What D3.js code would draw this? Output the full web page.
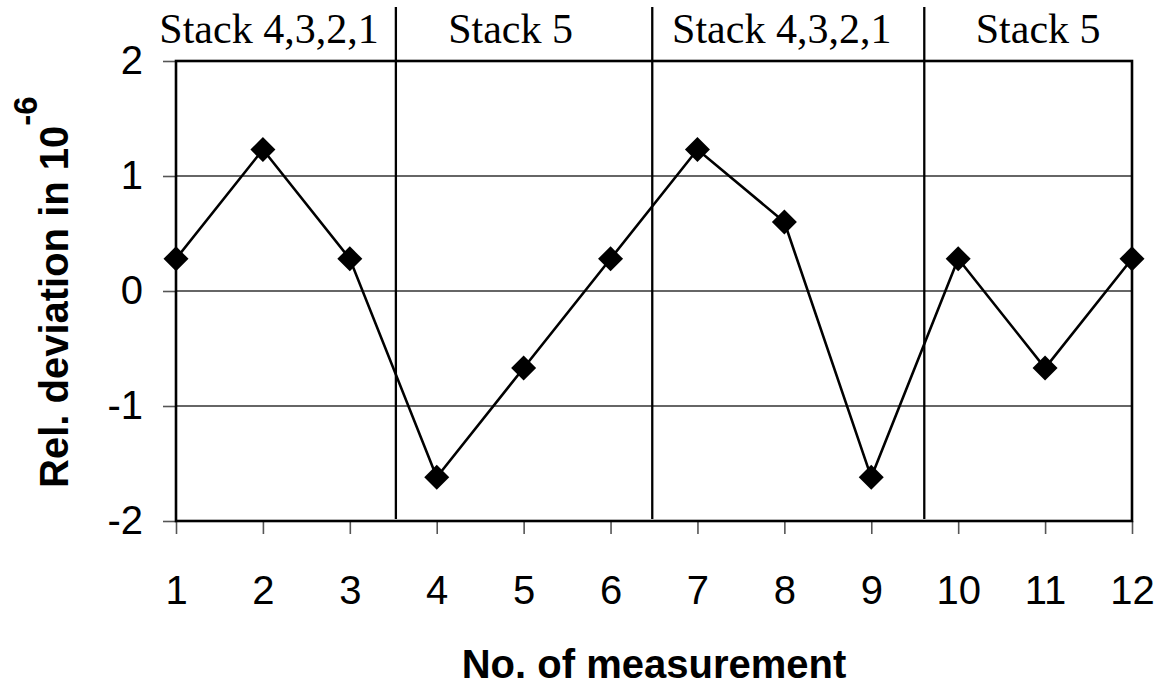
<!DOCTYPE html>
<html>
<head>
<meta charset="utf-8">
<script src="https://cdn.jsdelivr.net/npm/d3@7"></script>
<style>
  html, body { margin: 0; padding: 0; background: #fff; }
  svg { display: block; }
</style>
</head>
<body>
<svg id="chart" width="1171" height="685"></svg>
<script>
// Measurement number and relative deviation (in 1e-6)
const measurements = [1, 2, 3, 4, 5, 6, 7, 8, 9, 10, 11, 12];
const deviations = [0.28, 1.23, 0.28, -1.62, -0.67, 0.28, 1.23, 0.60, -1.62, 0.28, -0.67, 0.28];
const yTicks = [-2, -1, 0, 1, 2];

// Group boundaries and group captions along the top
const groupBreaks = [3.53, 6.48, 9.61];
const groupNames = ["Stack 4,3,2,1", "Stack 5", "Stack 4,3,2,1", "Stack 5"];
const groupCenters = [2.07, 4.85, 7.97, 10.92];

const svg = d3.select("#chart");
const plot = { left: 176, right: 1132, top: 61, bottom: 521 };

const x = d3.scaleLinear().domain([1, 12]).range([plot.left, plot.right]);
const y = d3.scaleLinear().domain([-2, 2]).range([plot.bottom, plot.top]);

const sans = "'Liberation Sans', Arial, sans-serif";
const serif = "'Liberation Serif', 'Times New Roman', serif";

// Horizontal gridlines
svg.append("g")
  .selectAll("line")
  .data(yTicks.filter(d => d > -2 && d < 2))
  .join("line")
  .attr("x1", plot.left).attr("x2", plot.right)
  .attr("y1", d => y(d)).attr("y2", d => y(d))
  .attr("stroke", "#333").attr("stroke-width", 1.3);

// Y axis
const yAxis = svg.append("g")
  .attr("transform", `translate(${plot.left},0)`)
  .call(d3.axisLeft(y).tickValues(yTicks).tickSize(13).tickPadding(20).tickFormat(d3.format("d")));
yAxis.select(".domain").remove();
yAxis.selectAll(".tick line").attr("stroke", "#555").attr("stroke-width", 1.6);
yAxis.selectAll(".tick text")
  .attr("font-family", sans).attr("font-size", 40).attr("fill", "#000")
  .text(d => d < 0 ? "-" + Math.abs(d) : d);

// X axis
const xAxis = svg.append("g")
  .attr("transform", `translate(0,${plot.bottom})`)
  .call(d3.axisBottom(x).tickValues(measurements).tickSize(13).tickPadding(42).tickFormat(d3.format("d")));
xAxis.select(".domain").remove();
xAxis.selectAll(".tick line").attr("stroke", "#555").attr("stroke-width", 1.6);
xAxis.selectAll(".tick text")
  .attr("font-family", sans).attr("font-size", 40).attr("fill", "#000");

// Plot frame
svg.append("rect")
  .attr("x", plot.left).attr("y", plot.top)
  .attr("width", plot.right - plot.left).attr("height", plot.bottom - plot.top)
  .attr("fill", "none").attr("stroke", "#000").attr("stroke-width", 2.6);

// Group separators
svg.append("g")
  .selectAll("line")
  .data(groupBreaks)
  .join("line")
  .attr("x1", d => x(d)).attr("x2", d => x(d))
  .attr("y1", 7).attr("y2", plot.bottom - 2)
  .attr("stroke", "#000").attr("stroke-width", 2.3);

// Group captions
svg.append("g")
  .selectAll("text")
  .data(groupNames)
  .join("text")
  .attr("x", (d, i) => x(groupCenters[i]))
  .attr("y", 43)
  .attr("text-anchor", "middle")
  .attr("font-family", serif).attr("font-size", 42)
  .text(d => d);

// Data line
const line = d3.line()
  .x((d, i) => x(measurements[i]))
  .y(d => y(d));
svg.append("path")
  .datum(deviations)
  .attr("d", line)
  .attr("fill", "none").attr("stroke", "#000").attr("stroke-width", 2.6);

// Diamond markers
const r = 12.5;
svg.append("g")
  .selectAll("path")
  .data(deviations)
  .join("path")
  .attr("transform", (d, i) => `translate(${x(measurements[i])},${y(d)})`)
  .attr("d", `M0,${-r}L${r},0L0,${r}L${-r},0Z`)
  .attr("fill", "#000");

// Axis titles
svg.append("text")
  .attr("x", (plot.left + plot.right) / 2)
  .attr("y", 678)
  .attr("text-anchor", "middle")
  .attr("font-family", sans).attr("font-size", 40).attr("font-weight", "bold")
  .text("No. of measurement");

const yTitle = svg.append("text")
  .attr("transform", "translate(68,488) rotate(-90)")
  .attr("x", 0).attr("y", 0)
  .attr("font-family", sans).attr("font-size", 40).attr("font-weight", "bold");
yTitle.append("tspan").text("Rel. deviation in 10");
yTitle.append("tspan").attr("dy", -31).attr("font-size", 33).text("-6");
</script>
</body>
</html>
